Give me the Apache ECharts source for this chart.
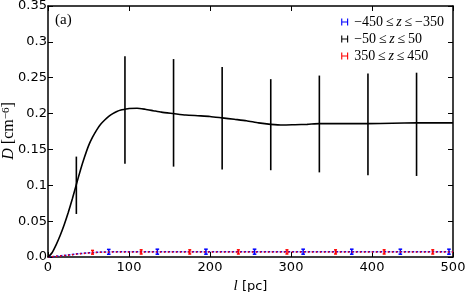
<!DOCTYPE html>
<html>
<head>
<meta charset="utf-8">
<script src="https://cdn.jsdelivr.net/npm/echarts@6/dist/echarts.min.js"></script>
<style>
  html, body { margin: 0; padding: 0; background: #fff; }
  #main { width: 473px; height: 292px; }
</style>
</head>
<body>
<div id="main"></div>
<script>
// data
var seriesNames = ['−450 ≤ z ≤ −350', '−50 ≤ z ≤ 50', '350 ≤ z ≤ 450'];
var xTicks = [0, 100, 200, 300, 400, 500];
var yTickLabels = ['0.0', '0.05', '0.1', '0.15', '0.2', '0.25', '0.3', '0.35'];

var blackL = [0, 5, 10, 15, 20, 25, 30, 35, 40, 45, 50, 55, 60, 65, 70, 75, 80, 85, 90, 95, 100, 110, 120, 130, 140, 155, 170, 185, 200, 215, 230, 245, 260, 275, 290, 305, 320, 335, 365, 395, 425, 455, 500];
var blackD = [0, 0.006, 0.017, 0.030, 0.045, 0.062, 0.081, 0.101, 0.121, 0.139, 0.155, 0.167, 0.177, 0.185, 0.191, 0.196, 0.200, 0.203, 0.205, 0.206, 0.207, 0.2075, 0.206, 0.204, 0.202, 0.200, 0.198, 0.197, 0.196, 0.194, 0.192, 0.190, 0.187, 0.185, 0.184, 0.1845, 0.185, 0.186, 0.186, 0.186, 0.1865, 0.187, 0.187];
var blackErrL = [35, 95, 155, 215, 275, 335, 395, 455];
var blackErrLow = [0.060, 0.130, 0.126, 0.122, 0.121, 0.118, 0.114, 0.113];
var blackErrHigh = [0.140, 0.280, 0.276, 0.265, 0.248, 0.253, 0.256, 0.257];

var blueL = [0, 10, 20, 30, 40, 50, 60, 70, 80, 100, 150, 200, 250, 300, 350, 400, 450, 500];
var blueD = [0, 0.0010, 0.0022, 0.0035, 0.0048, 0.0058, 0.0065, 0.0070, 0.0072, 0.0073, 0.0074, 0.0074, 0.0074, 0.0074, 0.0074, 0.0074, 0.0074, 0.0074];
var blueErrL = [75, 135, 195, 255, 315, 375, 435, 495];
var blueErrLow = [0.0038, 0.0039, 0.0039, 0.0039, 0.0039, 0.0039, 0.0039, 0.0039];
var blueErrHigh = [0.0106, 0.0109, 0.0109, 0.0109, 0.0109, 0.0109, 0.0109, 0.0109];

var redL = [0, 10, 20, 30, 40, 50, 60, 70, 80, 100, 150, 200, 250, 300, 350, 400, 450, 500];
var redD = [0, 0.0009, 0.0020, 0.0033, 0.0046, 0.0056, 0.0063, 0.0067, 0.0069, 0.0070, 0.0071, 0.0071, 0.0071, 0.0071, 0.0071, 0.0071, 0.0071, 0.0071];
var redErrL = [55, 115, 175, 235, 295, 355, 415, 475];
var redErrLow = [0.0040, 0.0042, 0.0042, 0.0042, 0.0042, 0.0042, 0.0042, 0.0042];
var redErrHigh = [0.0092, 0.0100, 0.0100, 0.0100, 0.0100, 0.0100, 0.0100, 0.0100];

var BLUE = '#0000ff', BLACK = '#000000', RED = '#ff0000';

function pairs(xs, ys) {
    return xs.map(function (x, i) { return [x, ys[i]]; });
}
function triples(xs, lo, hi) {
    return xs.map(function (x, i) { return [x, lo[i], hi[i]]; });
}

function errRender(color, cap, width) {
    return function (params, api) {
        var x = api.value(0);
        var p1 = api.coord([x, api.value(1)]);
        var p2 = api.coord([x, api.value(2)]);
        var style = {stroke: color, lineWidth: width};
        var children = [{type: 'line', shape: {x1: p1[0], y1: p1[1], x2: p2[0], y2: p2[1]}, style: style}];
        if (cap > 0) {
            children.push({type: 'line', shape: {x1: p1[0] - cap, y1: p1[1], x2: p1[0] + cap, y2: p1[1]}, style: style});
            children.push({type: 'line', shape: {x1: p2[0] - cap, y1: p2[1], x2: p2[0] + cap, y2: p2[1]}, style: style});
        }
        return {type: 'group', children: children};
    };
}

function zLabel(name) {
    // italic z, thin spaces around the relations
    var parts = name.replace(/ /g, '\u2009').split('z');
    return '{n|' + parts[0] + '}{i|z}{n|' + parts[1] + '}';
}

var errIcon = 'path://M0,0h1.6v10h-1.6z M1.6,4.3h6.8v1.4h-6.8z M8.4,0h1.6v10h-1.6z';

var chart = echarts.init(document.getElementById('main'));
var tickStyle = {show: true, inside: true, length: 5, lineStyle: {color: '#000', width: 1}};
var lineStyle = {show: true, onZero: false, lineStyle: {color: '#000', width: 1.5}};
var serif = 'Liberation Serif';

var option = {
    animation: false,
    backgroundColor: '#fff',
    textStyle: {fontFamily: 'DejaVu Sans'},
    grid: {left: 48, right: 20, top: 6, bottom: 35, containLabel: false, outerBoundsMode: 'none'},
    legend: {
        orient: 'vertical',
        right: 24,
        top: 10,
        itemGap: 3,
        itemWidth: 9,
        itemHeight: 7,
        data: seriesNames.map(function (n) { return {name: n, icon: errIcon}; }),
        formatter: zLabel,
        textStyle: {
            rich: {
                n: {fontFamily: serif, fontSize: 14, color: '#000'},
                i: {fontFamily: serif, fontStyle: 'italic', fontSize: 14, color: '#000'}
            }
        }
    },
    graphic: [{
        type: 'text', left: 55, top: 13,
        style: {text: '(a)', font: '15px "Liberation Serif"', fill: '#000'}
    }, {
        // y axis title, rotated
        type: 'text', x: 9, y: 131, rotation: Math.PI / 2,
        style: {
            text: '{i|D} [cm{s|−6}]', align: 'center', verticalAlign: 'middle',
            font: '16px "Liberation Serif"', fill: '#000',
            rich: {
                i: {fontFamily: serif, fontStyle: 'italic', fontSize: 16},
                s: {fontFamily: serif, fontSize: 11, verticalAlign: 'top'}
            }
        }
    }],
    xAxis: [{
        type: 'value', min: 0, max: 500, interval: 100,
        name: '{i|l} [pc]', nameLocation: 'middle', nameGap: 22,
        nameTextStyle: {
            fontSize: 13, color: '#000',
            rich: {i: {fontFamily: serif, fontStyle: 'italic', fontSize: 15, color: '#000'}}
        },
        axisLine: lineStyle, axisTick: tickStyle, splitLine: {show: false},
        axisLabel: {color: '#000', fontSize: 13, margin: 4, formatter: function (v) {
            return xTicks.indexOf(v) >= 0 ? String(v) : '';
        }}
    }, {
        type: 'value', min: 0, max: 500, interval: 100, position: 'top',
        axisLine: lineStyle, axisTick: tickStyle, axisLabel: {show: false}, splitLine: {show: false}
    }],
    yAxis: [{
        type: 'value', min: 0, max: 0.35, interval: 0.05,
        axisLine: lineStyle, axisTick: tickStyle, splitLine: {show: false},
        axisLabel: {color: '#000', fontSize: 13, margin: 1, formatter: function (v) {
            return yTickLabels[Math.round(v / 0.05)];
        }}
    }, {
        type: 'value', min: 0, max: 0.35, interval: 0.05, position: 'right',
        axisLine: lineStyle, axisTick: tickStyle, axisLabel: {show: false}, splitLine: {show: false}
    }],
    series: [
        {
            name: seriesNames[0], type: 'line', data: pairs(blueL, blueD), showSymbol: false,
            itemStyle: {color: BLUE}, lineStyle: {color: BLUE, width: 1.5, type: [2.5, 1.5]}, z: 3
        },
        {
            name: seriesNames[0], type: 'custom', data: triples(blueErrL, blueErrLow, blueErrHigh),
            renderItem: errRender(BLUE, 1.8, 1.5), encode: {x: 0, y: [1, 2]}, itemStyle: {color: BLUE}, z: 3
        },
        {
            name: seriesNames[2], type: 'line', data: pairs(redL, redD), showSymbol: false,
            itemStyle: {color: RED}, lineStyle: {color: RED, width: 1.5, type: [1.5, 2.5]}, z: 4
        },
        {
            name: seriesNames[2], type: 'custom', data: triples(redErrL, redErrLow, redErrHigh),
            renderItem: errRender(RED, 1.5, 1.5), encode: {x: 0, y: [1, 2]}, itemStyle: {color: RED}, z: 4
        },
        {
            name: seriesNames[1], type: 'line', data: pairs(blackL, blackD), showSymbol: false, smooth: 0.2,
            itemStyle: {color: BLACK}, lineStyle: {color: BLACK, width: 1.6}, z: 5
        },
        {
            name: seriesNames[1], type: 'custom', data: triples(blackErrL, blackErrLow, blackErrHigh),
            renderItem: errRender(BLACK, 0, 1.6), encode: {x: 0, y: [1, 2]}, itemStyle: {color: BLACK}, z: 5
        }
    ]
};
chart.setOption(option);
</script>
</body>
</html>
